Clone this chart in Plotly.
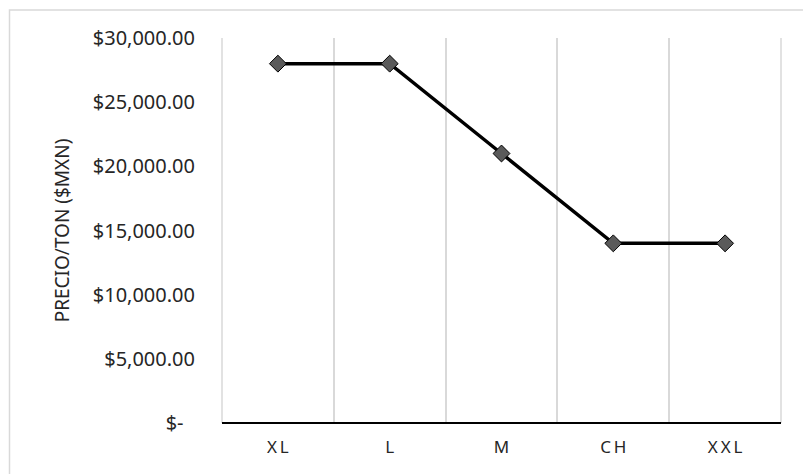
import plotly.graph_objects as go

# Price per ton by size
sizes = ["X\u2009L", "L", "M", "C\u2009H", "X\u2009X\u2009L"]
prices = [28000, 28000, 21000, 14000, 14000]
y_ticks = [0, 5000, 10000, 15000, 20000, 25000, 30000]
y_tick_labels = ["$-\u2007", "$5,000.00", "$10,000.00", "$15,000.00",
                 "$20,000.00", "$25,000.00", "$30,000.00"]

W, H = 803, 474
ML, MR, MT, MB = 222, 22, 38, 51
FONT = "Noto Sans, Open Sans, sans-serif"
GRID = "#d9d9d9"

fig = go.Figure(go.Scatter(
    x=sizes, y=prices, mode="lines+markers",
    line=dict(color="black", width=3.5),
    marker=dict(symbol="diamond", size=13, color="#5a5a5a",
                line=dict(color="black", width=1)),
    hoverinfo="x+y",
))

pw = W - ML - MR
ph = H - MT - MB
# light frame around the chart (its right and bottom edges run off the page)
fig.add_shape(type="rect", xref="paper", yref="paper",
              x0=(9.5 - ML) / pw, x1=(W + 20 - ML) / pw,
              y0=(MB - (H + 20)) / ph, y1=1 + (MT - 10) / ph,
              line=dict(color=GRID, width=1.5), layer="below")
# gridlines on the outer category boundaries (left and right plot edges)
for xe in (0, 1):
    fig.add_shape(type="line", xref="paper", yref="paper",
                  x0=xe, x1=xe, y0=0, y1=1,
                  line=dict(color=GRID, width=1.5), layer="below")

fig.update_layout(
    width=W, height=H,
    margin=dict(l=ML, r=MR, t=MT, b=MB),
    paper_bgcolor="white", plot_bgcolor="white",
    showlegend=False,
    font=dict(family=FONT, color="#262626", size=18),
    xaxis=dict(
        type="category", range=[-0.5, 4.5],
        tickson="boundaries", showgrid=True, gridcolor=GRID, gridwidth=1.5,
        ticks="", showline=False,
        tickfont=dict(size=17, color="#262626"), zeroline=False,
        ticklabelstandoff=12,
    ),
    yaxis=dict(
        range=[0, 30000], tickvals=y_ticks, ticktext=y_tick_labels,
        showgrid=False, showline=False, ticks="",
        zeroline=True, zerolinecolor="black", zerolinewidth=1.5,
        tickfont=dict(size=20, color="#262626"),
        ticklabelstandoff=26,
        title=dict(text="PRECIO/TON ($MXN)", standoff=18,
                   font=dict(size=19, color="#262626")),
    ),
)

fig.write_html("out.html")
